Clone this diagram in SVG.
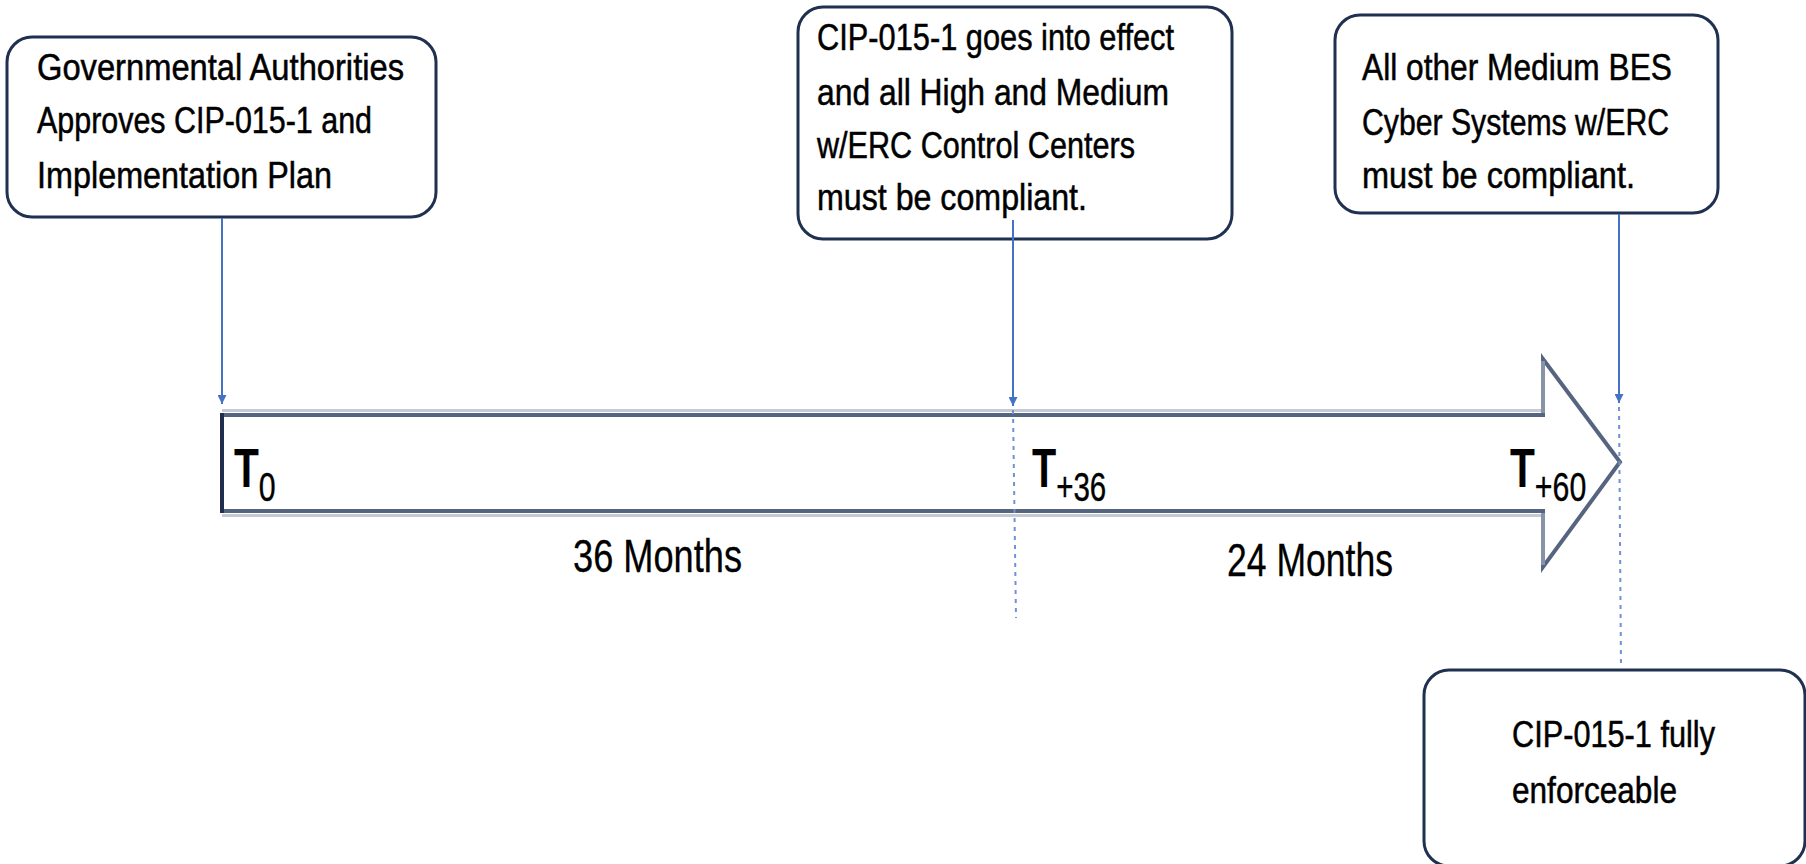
<svg xmlns="http://www.w3.org/2000/svg" width="1806" height="864" viewBox="0 0 1806 864">
  <defs>
    <style>
      .box { fill: #ffffff; stroke: #1f3050; stroke-width: 3; }
      .txt { font-family: "Liberation Sans", Arial, sans-serif; font-size: 36px; fill: #000000; stroke: #000000; stroke-width: 0.5; }
      .lbl { font-family: "Liberation Sans", Arial, sans-serif; font-size: 46px; fill: #000000; stroke: #000000; stroke-width: 0.3; }
      .tlab { font-family: "Liberation Sans", Arial, sans-serif; fill: #000000; }
      .tmain { font-size: 55px; font-weight: bold; }
      .tsub { font-size: 41px; font-weight: normal; stroke: #000000; stroke-width: 0.4; }
      .conn { stroke: #4472c4; stroke-width: 2; fill: none; }
      .dot { stroke: #6f92d6; stroke-width: 2; fill: none; stroke-dasharray: 4 5; }
    </style>
    <marker id="arr" markerUnits="userSpaceOnUse" markerWidth="10" markerHeight="9" refX="9" refY="4.5" orient="auto">
      <path d="M0,0 L9,4.5 L0,9 Z" fill="#4472c4"/>
    </marker>
  </defs>

  <rect width="1806" height="864" fill="#ffffff"/>

  <!-- Timeline arrow -->
  <g id="timeline">
    <path d="M222,415 H1543 V359 L1620,462 L1543,567 V511 H222 Z" fill="#ffffff" stroke="#56657f" stroke-width="4"/>
    <line x1="222" y1="410.5" x2="1541" y2="410.5" stroke="#c5cad4" stroke-width="3"/>
    <line x1="222" y1="515.5" x2="1541" y2="515.5" stroke="#c5cad4" stroke-width="3"/>
    <line x1="222" y1="413" x2="222" y2="513" stroke="#1f2d4f" stroke-width="4"/>
    <line x1="1543" y1="361" x2="1543" y2="413" stroke="#8893a8" stroke-width="4"/>
    <line x1="1543" y1="513" x2="1543" y2="565" stroke="#8893a8" stroke-width="4"/>

    <text class="tlab" transform="translate(234,487) scale(0.74,1)"><tspan class="tmain">T</tspan><tspan class="tsub" dy="14">0</tspan></text>
    <text class="tlab" transform="translate(1032,487) scale(0.72,1)"><tspan class="tmain">T</tspan><tspan class="tsub" dy="14">+36</tspan></text>
    <text class="tlab" transform="translate(1510,487) scale(0.74,1)"><tspan class="tmain">T</tspan><tspan class="tsub" dy="14">+60</tspan></text>

    <text class="lbl" x="573" y="572" textLength="169" lengthAdjust="spacingAndGlyphs">36 Months</text>
    <text class="lbl" x="1227" y="576" textLength="166" lengthAdjust="spacingAndGlyphs">24 Months</text>
  </g>

  <g id="node-approval">
    <rect class="box" x="7" y="37" width="429" height="180" rx="25" ry="25"/>
    <text class="txt" x="37" y="80" textLength="367" lengthAdjust="spacingAndGlyphs">Governmental Authorities</text>
    <text class="txt" x="37" y="133" textLength="335" lengthAdjust="spacingAndGlyphs">Approves CIP-015-1 and</text>
    <text class="txt" x="37" y="188" textLength="295" lengthAdjust="spacingAndGlyphs">Implementation Plan</text>
  </g>

  <g id="node-effect">
    <rect class="box" x="798" y="7" width="434" height="232" rx="25" ry="25"/>
    <text class="txt" x="817" y="50" textLength="357" lengthAdjust="spacingAndGlyphs">CIP-015-1 goes into effect</text>
    <text class="txt" x="817" y="105" textLength="352" lengthAdjust="spacingAndGlyphs">and all High and Medium</text>
    <text class="txt" x="817" y="158" textLength="318" lengthAdjust="spacingAndGlyphs">w/ERC Control Centers</text>
    <text class="txt" x="817" y="210" textLength="270" lengthAdjust="spacingAndGlyphs">must be compliant.</text>
  </g>

  <g id="node-medium">
    <rect class="box" x="1335" y="15" width="383" height="198" rx="25" ry="25"/>
    <text class="txt" x="1362" y="80" textLength="310" lengthAdjust="spacingAndGlyphs">All other Medium BES</text>
    <text class="txt" x="1362" y="135" textLength="307" lengthAdjust="spacingAndGlyphs">Cyber Systems w/ERC</text>
    <text class="txt" x="1362" y="188" textLength="273" lengthAdjust="spacingAndGlyphs">must be compliant.</text>
  </g>

  <g id="node-enforceable">
    <rect class="box" x="1424" y="670" width="381" height="196" rx="25" ry="25"/>
    <text class="txt" x="1512" y="747" textLength="203" lengthAdjust="spacingAndGlyphs">CIP-015-1 fully</text>
    <text class="txt" x="1512" y="803" textLength="165" lengthAdjust="spacingAndGlyphs">enforceable</text>
  </g>

  <g id="connectors">
    <line class="conn" x1="222" y1="218" x2="222" y2="404" marker-end="url(#arr)"/>
    <line class="conn" x1="1013" y1="220" x2="1013" y2="406" marker-end="url(#arr)"/>
    <line class="dot" x1="1013" y1="410" x2="1016" y2="618"/>
    <line class="conn" x1="1619" y1="214" x2="1619" y2="403" marker-end="url(#arr)"/>
    <line class="dot" x1="1619" y1="407" x2="1621" y2="668"/>
  </g>
</svg>
